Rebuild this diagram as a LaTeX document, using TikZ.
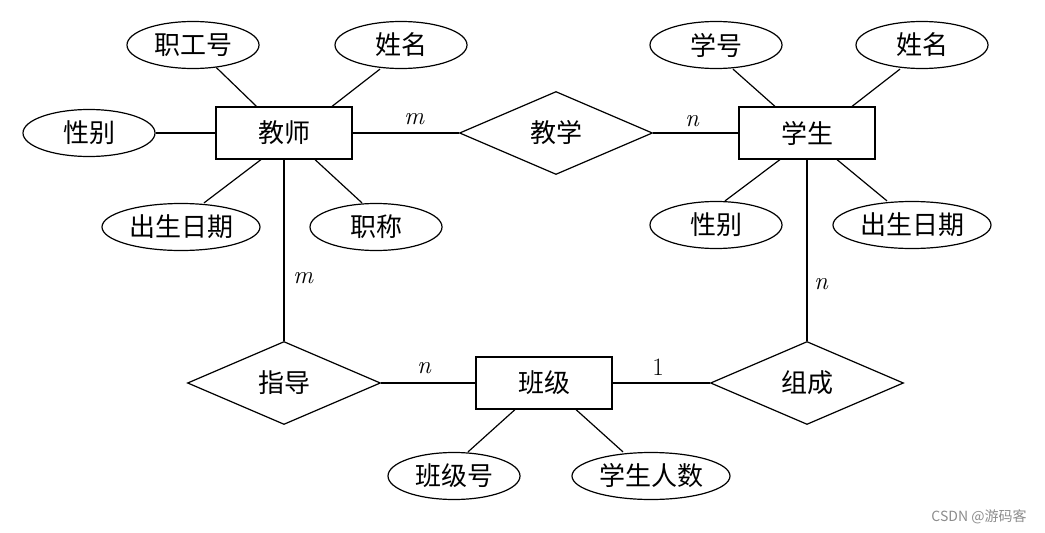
\documentclass[tikz,border=0pt]{standalone}
\usepackage{fontspec}
\usetikzlibrary{shapes.geometric}
\newfontfamily\cjk{Noto Sans CJK SC}
\begin{document}
\begin{tikzpicture}[x=1pt,y=-1pt,
  every node/.style={font=\cjk\fontsize{26}{30}\selectfont},
  entity/.style={draw,line width=1.2pt,minimum width=136pt,minimum height=52pt,inner sep=0pt},
  attr/.style={draw,ellipse,line width=1.2pt,minimum width=132pt,minimum height=47pt,inner sep=0pt},
  wideattr/.style={attr,minimum width=158pt},
  rel/.style={draw,diamond,line width=1.2pt,minimum width=193pt,minimum height=83pt,inner sep=0pt,aspect=2.33},
  link/.style={line width=1.2pt},
  card/.style={font=\rmfamily\fontsize{25}{27}\selectfont,inner sep=0pt}]
\useasboundingbox (0,0) rectangle (1045,533);
% entities
\node[entity] (T) at (284,133) {教师};
\node[entity] (S) at (807,133) {学生};
\node[entity] (C) at (544,383) {班级};
% relationships
\node[rel] (R1) at (556,133) {教学};
\node[rel] (R2) at (284,383) {指导};
\node[rel] (R3) at (807,383) {组成};
% teacher attributes
\node[attr] (A1) at (193,45) {职工号};
\node[attr] (A2) at (401,45) {姓名};
\node[attr] (A3) at (89,133) {性别};
\node[wideattr] (A4) at (181,227) {出生日期};
\node[attr] (A5) at (376,227) {职称};
% student attributes
\node[attr] (B1) at (716,45) {学号};
\node[attr] (B2) at (922,45) {姓名};
\node[attr] (B3) at (716,225) {性别};
\node[wideattr] (B4) at (912,225) {出生日期};
% class attributes
\node[attr] (D1) at (454,476) {班级号};
\node[wideattr] (D2) at (651,476) {学生人数};
% attribute links
\draw[link] (A1) -- (T);
\draw[link] ([xshift=-21pt]A2.south) -- ([xshift=48pt]T.north);
\draw[link] (A3) -- (T);
\draw[link] ([xshift=23pt]A4.north) -- ([xshift=-23pt]T.south);
\draw[link] ([xshift=-14pt]A5.north) -- ([xshift=31pt]T.south);
\draw[link] ([xshift=17pt]B1.south) -- ([xshift=-32pt]S.north);
\draw[link] ([xshift=-22pt]B2.south) -- ([xshift=45pt]S.north);
\draw[link] ([xshift=9pt]B3.north) -- ([xshift=-27pt]S.south);
\draw[link] ([xshift=-25pt]B4.north) -- ([xshift=30pt]S.south);
\draw[link] ([xshift=14pt]D1.north) -- ([xshift=-29pt]C.south);
\draw[link] ([xshift=-28pt]D2.north) -- ([xshift=32pt]C.south);
% relationship links
\draw[link] (T) -- (R1);
\draw[link] (R1) -- (S);
\draw[link] (T) -- (R2);
\draw[link] (R2) -- (C);
\draw[link] (C) -- (R3);
\draw[link] (S) -- (R3);
% cardinalities
\node[card] (c1) at (414,119) {\itshape m};
\node[card] (c2) at (692,121) {\itshape n};
\node[card] (c3) at (303,278) {\itshape m};
\node[card] (c4) at (424,368) {\itshape n};
\node[card] (c5) at (658,367) {1};
\node[card] (c6) at (821,284) {\itshape n};
% watermark
\node[font=\cjk\fontsize{14}{16}\selectfont,text=black!45] (wm) at (979,517) {CSDN @游码客};
\end{tikzpicture}
\end{document}
